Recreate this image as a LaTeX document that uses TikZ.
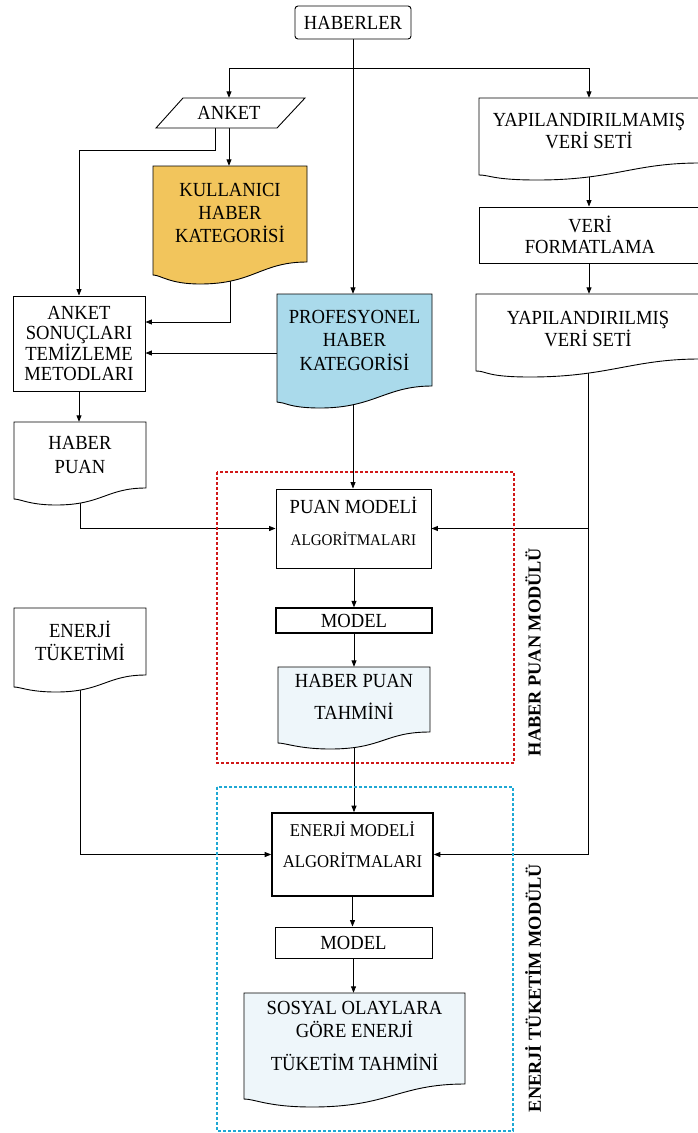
\documentclass[tikz,border=0pt]{standalone}
\usepackage{fontspec}
\setmainfont{Liberation Serif}[FakeStretch=0.93]
\newfontfamily\labfont{Liberation Serif}
\usetikzlibrary{arrows.meta,calc}
\pgfdeclarelayer{conn}
\pgfdeclarelayer{shapes}
\pgfsetlayers{conn,shapes,main}
\definecolor{korange}{RGB}{242,197,92}
\definecolor{pblue}{RGB}{170,218,235}
\definecolor{lblue}{RGB}{238,246,250}
\definecolor{dred}{RGB}{208,24,24}
\definecolor{dcyan}{RGB}{30,168,212}
\newcommand\fz{\fontsize{20}{23}\selectfont}
% #1 style, #2 x1, #3 x2, #4 top, #5 yL, #6 yR, #7 ymin, #8 xmin
\newcommand\mydoc[8]{%
  \path[#1] (#2,#4) -- (#3,#4) -- (#3,#6)
    .. controls ({#3-0.3*(#3-#2)},#6) and ({#8+0.35*(#3-#2)},#7) .. (#8,#7)
    .. controls ({#8-0.2*(#3-#2)},#7) and ({#2+0.05*(#3-#2)},#5) .. (#2,#5) -- cycle;}
\begin{document}
\begin{tikzpicture}[x=1pt,y=-1pt,
  txt/.style={inner sep=0pt, align=center, font=\fz},
  box/.style={txt, draw, line width=0.9pt, fill=white},
  ln/.style={line width=0.9pt},
  arr/.style={ln, -{Triangle[length=6.5pt,width=5pt]}},
  shp/.style={draw, line width=0.9pt},
  dotbox/.style={line width=2.6pt, dash pattern=on 2.6pt off 2.4pt},
  modlab/.style={inner sep=0pt, rotate=90, font=\labfont\fontsize{18.3}{22}\selectfont\bfseries}]
\useasboundingbox (0,0) rectangle (698,1133);

% ---------- nodes ----------
\node[box, rounded corners=3pt, minimum width=116pt, minimum height=33pt] (hab) at (353,22.5) {HABERLER};
\node[txt, minimum width=122pt, minimum height=30pt] (anket) at (229,113) {ANKET};
\node[txt, minimum width=222pt, minimum height=66pt, font=\fontsize{20}{20}\selectfont] (yapm) at (589,131) {YAPILANDIRILMAMIŞ\\VERİ SETİ};
\node[box, minimum width=222pt, minimum height=56pt, font=\fontsize{20}{21}\selectfont] (verf) at (590,235) {VERİ\\FORMATLAMA};
\node[txt, minimum width=226pt, minimum height=70pt, font=\fontsize{20}{22}\selectfont] (yap) at (588,329) {YAPILANDIRILMIŞ\\VERİ SETİ};
\node[txt, minimum width=154pt, minimum height=94pt] (kul) at (230,213) {KULLANICI\\HABER\\KATEGORİSİ};
\node[box, minimum width=132pt, minimum height=95pt, font=\fontsize{20}{19.5}\selectfont] (ask) at (79,343.5) {ANKET\\SONUÇLARI\\TEMİZLEME\\METODLARI};
\node[txt, minimum width=155pt, minimum height=92pt, font=\fontsize{20}{23.5}\selectfont] (prof) at (354.5,340) {PROFESYONEL\\HABER\\KATEGORİSİ};
\node[txt, minimum width=132pt, minimum height=66pt, font=\fontsize{20}{24}\selectfont] (hp) at (80,455) {HABER\\PUAN};
\node[box, minimum width=155pt, minimum height=79pt] (pm) at (353.5,528.5) {};
\node[txt] (pmt) at (353.5,521) {PUAN MODELİ\\[9pt]{\fontsize{16.2}{23}\selectfont ALGORİTMALARI}};
\node[box, line width=1.3pt, minimum width=156pt, minimum height=25pt] (m1) at (354,620.5) {MODEL};
\node[txt, minimum width=152pt, minimum height=60pt] (hpt) at (354,697) {HABER PUAN\\[9pt]TAHMİNİ};
\node[txt, minimum width=132pt, minimum height=65pt] (et) at (80,640.5) {ENERJİ\\TÜKETİMİ};
\node[box, line width=1.6pt, minimum width=161pt, minimum height=83pt] (em) at (352.5,854.5) {};
\node[txt, font=\fontsize{18}{22}\selectfont] (emt) at (352.5,844.5) {ENERJİ MODELİ\\[9pt]ALGORİTMALARI};
\node[box, minimum width=157pt, minimum height=31pt] (m2) at (353.5,942.5) {MODEL};
\node[txt, minimum width=221pt, minimum height=86pt] (sos) at (354.5,1036) {SOSYAL OLAYLARA\\GÖRE ENERJİ\\[10pt]TÜKETİM TAHMİNİ};

\node[modlab] (lab1) at (533,652) {HABER PUAN MODÜLÜ};
\node[modlab] (lab2) at (533,988) {ENERJİ TÜKETİM MODÜLÜ};

\coordinate (j1) at (353,68);

% ---------- shapes ----------
\begin{pgfonlayer}{shapes}
\path[shp,fill=white] (156,128) -- (183,98) -- (305,98) -- (277,128) -- cycle;
\mydoc{shp,fill=white}{479}{699.5}{98}{175}{163}{180}{537}
\mydoc{shp,fill=white}{476}{699.5}{294}{371}{359}{377}{530}
\mydoc{shp,fill=korange}{153}{307}{166}{275}{262}{284}{200}
\mydoc{shp,fill=pblue}{277}{432}{294}{402}{386}{408}{320}
\mydoc{shp,fill=white}{14}{146}{422}{499}{488}{505}{56}
\mydoc{shp,fill=white}{14}{146}{608}{687}{675}{692}{56}
\mydoc{shp,fill=lblue}{278}{430}{667}{743}{732}{749}{330}
\mydoc{shp,fill=lblue}{244}{465}{993}{1099}{1084}{1107}{312}
\end{pgfonlayer}

% ---------- connectors ----------
\begin{pgfonlayer}{conn}
\draw[arr] (hab.south) -- (j1) -| (anket.north);
\draw[arr] (j1) -| (yapm.north);
\draw[arr] (j1) -- (j1 |- prof.north);
\draw[arr] (anket.center) -- (anket.center |- kul.north);
\draw[arr] ([xshift=-14pt]anket.center) -- ++(0,37) -| (ask.north);
\draw[arr] (kul.center) |- ([yshift=21.5pt]ask.east);
\draw[arr] ([yshift=-13pt]prof.center) -- ([yshift=-13pt]prof.center -| ask.east);
\draw[arr] (yapm.center) -- (yapm.center |- verf.north);
\draw[arr] (yapm.center |- verf.south) -- (yapm.center |- yap.north);
\draw[arr] (j1 |- prof.center) -- (j1 |- pm.north);
\draw[arr] (ask.south) -- (ask.south |- hp.north);
\draw[arr] (hp.center) |- (pm.west);
\draw[arr] (yap.center) |- (pm.east);
\draw[arr] (yap.center) |- (em.east);
\draw[arr] (m1.north |- pm.south) -- (m1.north);
\draw[arr] (m1.south) -- (m1.south |- hpt.north);
\draw[arr] (hpt.center) -- (hpt.center |- em.north);
\draw[arr] (et.center) |- (em.west);
\draw[arr] (em.south) -- (em.south |- m2.north);
\draw[arr] (m2.south) -- (m2.south |- sos.north);
\end{pgfonlayer}

% ---------- module frames ----------
\draw[dotbox, dred] (217,472) rectangle (514,763);
\draw[dotbox, dcyan] (217,787) rectangle (513,1131);
\end{tikzpicture}
\end{document}
